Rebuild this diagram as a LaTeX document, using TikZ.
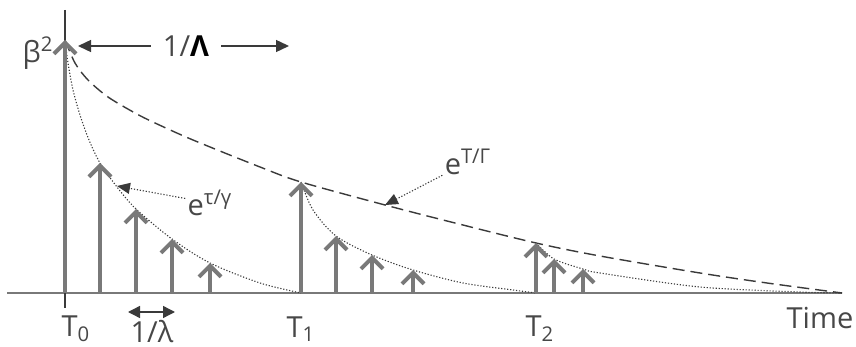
\documentclass[tikz,border=0pt]{standalone}
\usepackage{fontspec}
\setmainfont{Open Sans}
\usepackage{tikz}
\usetikzlibrary{arrows.meta}
\definecolor{Stem}{HTML}{797979}
\definecolor{Ink}{HTML}{3A3A3A}
\definecolor{Txt}{HTML}{474747}

\begin{document}
\begin{tikzpicture}[x=0.5pt,y=-0.5pt,
    impulse/.style={Stem,line width=2pt,-{Straight Barb[length=5.5pt,width=11pt]}},
    decay/.style={Ink,line width=0.55pt,dash pattern=on 0.6pt off 0.9pt},
    envelope/.style={Ink,line width=0.7pt,dash pattern=on 6pt off 3pt},
    pointer/.style={Ink,line width=0.55pt,dash pattern=on 0.6pt off 0.9pt,
      -{Triangle[length=6.5pt,width=5.5pt]}},
    span/.style={Ink,line width=0.7pt},
    lbl/.style={font=\fontsize{14.5}{17}\selectfont,text=Txt,inner sep=1pt}]
  \useasboundingbox (0,0) rectangle (856,347);
  % time axis and T0 marker
  \draw[Stem,line width=1.3pt] (7,293) -- (842,293);
  \draw[Ink,line width=0.7pt] (65,10) -- (65,308);
  % envelope and decays
  \draw[envelope] plot[smooth] coordinates {(65,40) (75,63) (88,80) (108,97)
    (135,113) (155,123) (193,140) (260,167) (301,182) (385,205) (451,222)
    (536,243) (600,256) (700,273) (767,283) (842,293)};
  \draw[decay] plot[smooth] coordinates {(65,40) (68,63) (73,90) (80,115)
    (89,140) (100,163) (117,187) (136,209) (172,239) (210,263) (260,283)
    (301,293)};
  \draw[decay] plot[smooth] coordinates {(301,182) (313,210) (336,236)
    (372,255) (413,270) (463,283) (513,290) (536,293)};
  \draw[decay] plot[smooth] coordinates {(536,243) (554,259) (583,269)
    (600,273) (700,287) (800,292) (842,293)};
  % impulses
  \foreach \i/\x/\top in {0/65/40, 1/100/163, 2/136/209, 3/172/239, 4/210/263,
      5/301/182, 6/336/236, 7/372/255, 8/413/270,
      9/536/243, 10/554/259, 11/583/269} {
    \coordinate (b\i) at (\x,293);
    \coordinate (t\i) at (\x,\top);
    \draw[impulse] (b\i) -- (t\i);
  }
  % labels
  \node[lbl] (beta) at (38,53) {β\textsuperscript{2}};
  \node[lbl] (tz) at (76,329) {T\textsubscript{0}};
  \node[lbl] (tone) at (301,329) {T\textsubscript{1}};
  \node[lbl] (ttwo) at (540,329) {T\textsubscript{2}};
  \node[lbl] (time) at (820,318) {Time};
  \node[lbl,inner xsep=6pt] (bigL) at (186,46) {1/{\bfseries\color{black}Λ}};
  \node[lbl] (smallL) at (152,332) {1/λ};
  \node[lbl] (etau) at (210,203) {e\textsuperscript{τ/γ}};
  \node[lbl] (eT) at (468,162) {e\textsuperscript{T/Γ}};
  % spans
  \coordinate (bigLl) at (78,46);
  \coordinate (bigLr) at (289,46);
  \draw[span,-{Triangle[length=6.5pt,width=6pt]}] (bigL) -- (bigLl);
  \draw[span,-{Triangle[length=6.5pt,width=6pt]}] (bigL) -- (bigLr);
  \coordinate (sl) at (128,312);
  \coordinate (sr) at (175,312);
  \draw[span,{Triangle[length=6pt,width=6pt]}-{Triangle[length=6pt,width=6pt]}] (sl) -- (sr);
  % pointers to curves
  \coordinate (ptau) at (117,186);
  \coordinate (pT) at (385,205);
  \draw[pointer] (etau) -- (ptau);
  \draw[pointer] (eT) -- (pT);
\end{tikzpicture}
\end{document}
